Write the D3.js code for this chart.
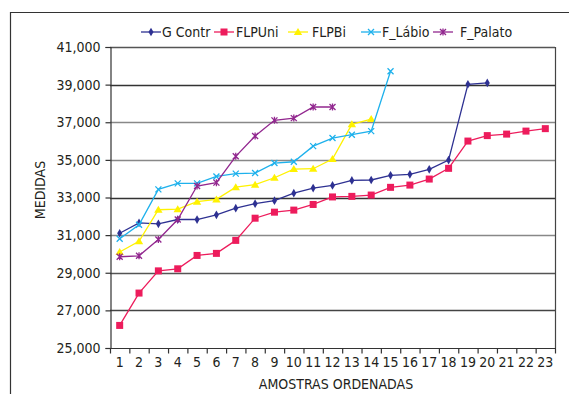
<!DOCTYPE html>
<html>
<head>
<meta charset="utf-8">
<script src="https://cdn.jsdelivr.net/npm/d3@7"></script>
<style>
  html, body { margin: 0; padding: 0; background: #fff; }
  svg { display: block; }
  text { font-family: "Liberation Sans Narrow", "DejaVu Sans Condensed", "Roboto Condensed", sans-serif; fill: #231f20; }
</style>
</head>
<body>
<svg id="chart" width="569" height="394"></svg>
<script>
const categories = d3.range(1, 24).map(String);
const yTicks = [25000, 27000, 29000, 31000, 33000, 35000, 37000, 39000, 41000];
const seriesNames = ["G Contr", "FLPUni", "FLPBi", "F_Lábio", "F_Palato"];
const gContr = [31100, 31650, 31600, 31830, 31830, 32080, 32430, 32670, 32830, 33230, 33500, 33640, 33910, 33930, 34180, 34230, 34500, 34990, 39020, 39090];
const flpUni = [26200, 27920, 29100, 29210, 29920, 30030, 30720, 31900, 32220, 32330, 32630, 33030, 33060, 33130, 33540, 33660, 33980, 34550, 36000, 36290, 36370, 36530, 36660];
const flpBi = [30100, 30670, 32350, 32380, 32780, 32900, 33550, 33680, 34050, 34510, 34530, 35040, 36890, 37170];
const fLabio = [30810, 31550, 33430, 33750, 33750, 34120, 34270, 34300, 34830, 34900, 35730, 36160, 36340, 36530, 39710];
const fPalato = [29850, 29900, 30770, 31830, 33610, 33790, 35190, 36270, 37100, 37220, 37810, 37810];

const seriesValues = [gContr, flpUni, flpBi, fLabio, fPalato];
const colors = ["#2e3192", "#ed1c5c", "#fff200", "#1eb1ec", "#92278f"];
const markers = ["diamond", "square", "triangle", "x", "star"];

const svg = d3.select("#chart");

// outer frame (left & top only visible)
svg.append("path").attr("d", "M10.5,394 L10.5,12.5 L569,12.5")
  .attr("fill", "none").attr("stroke", "#333").attr("stroke-width", 1.2);

const L = 110, R = 555, T = 47, B = 348;
const x = d3.scaleBand().domain(categories).range([L, R]).padding(0);
const y = d3.scaleLinear().domain([25000, 41000]).range([B, T]);

// gridlines
const gridColors = {27000: "#444", 29000: "#555", 31000: "#888", 33000: "#333", 35000: "#888", 37000: "#888", 39000: "#333", 41000: "#555"};
svg.append("g").selectAll("line").data(yTicks.filter(v => v > 25000)).join("line")
  .attr("x1", L).attr("x2", R)
  .attr("y1", d => Math.round(y(d)) + 0.5).attr("y2", d => Math.round(y(d)) + 0.5)
  .attr("stroke", d => gridColors[d]).attr("stroke-width", 1.4);
// right border
svg.append("line").attr("x1", R + 0.5).attr("x2", R + 0.5).attr("y1", T).attr("y2", B)
  .attr("stroke", "#444").attr("stroke-width", 1.2);

// y axis
const yAxis = svg.append("g").attr("transform", `translate(${L + 0.5},0)`)
  .call(d3.axisLeft(y).tickValues(yTicks).tickSize(5).tickPadding(5).tickFormat(d3.format(",")));
yAxis.select(".domain").attr("stroke", "#333").attr("stroke-width", 1.2);
yAxis.selectAll(".tick line").attr("stroke", "#333").attr("stroke-width", 1.2);
yAxis.selectAll("text").attr("font-size", 14).attr("fill", "#231f20")
  .attr("font-family", "'Liberation Sans Narrow', 'DejaVu Sans Condensed', sans-serif");

// x axis with ticks between categories
const xAxisG = svg.append("g").attr("transform", `translate(0,${B + 0.5})`);
xAxisG.append("line").attr("x1", L).attr("x2", R + 1).attr("y1", 0).attr("y2", 0)
  .attr("stroke", "#333").attr("stroke-width", 1.2);
const bounds = categories.map(c => x(c)).concat([R]);
xAxisG.selectAll("line.tk").data(bounds).join("line").attr("class", "tk")
  .attr("x1", d => d + 0.5).attr("x2", d => d + 0.5).attr("y1", 0).attr("y2", 5)
  .attr("stroke", "#333").attr("stroke-width", 1.2);
xAxisG.selectAll("text").data(categories).join("text")
  .attr("x", d => x(d) + x.bandwidth() / 2).attr("y", 18)
  .attr("text-anchor", "middle").attr("font-size", 14).text(d => d);

// axis titles
svg.append("text").attr("transform", "translate(45,190) rotate(-90)")
  .attr("text-anchor", "middle").attr("font-size", 14).text("MEDIDAS");
svg.append("text").attr("x", 336).attr("y", 389)
  .attr("text-anchor", "middle").attr("font-size", 14).text("AMOSTRAS ORDENADAS");

function drawMarker(g, type, color) {
  if (type === "diamond") {
    g.append("path").attr("d", d3.symbol(d3.symbolDiamond, 22)()).attr("fill", color);
  } else if (type === "square") {
    g.append("rect").attr("x", -3.5).attr("y", -3.5).attr("width", 7).attr("height", 7).attr("fill", color);
  } else if (type === "triangle") {
    g.append("path").attr("d", "M0,-4 L4.2,3 L-4.2,3 Z").attr("fill", color);
  } else if (type === "x") {
    g.append("path").attr("d", "M-3,-3 L3,3 M-3,3 L3,-3").attr("stroke", color).attr("stroke-width", 1.3).attr("fill", "none");
  } else if (type === "star") {
    g.append("path").attr("d", "M-3,-3 L3,3 M-3,3 L3,-3 M0,-3.5 L0,3.5").attr("stroke", color).attr("stroke-width", 1.3).attr("fill", "none");
  }
}

const line = d3.line().x((d, i) => x(categories[i]) + x.bandwidth() / 2).y(d => y(d));
seriesValues.forEach((vals, si) => {
  const g = svg.append("g");
  g.append("path").datum(vals).attr("d", line).attr("fill", "none")
    .attr("stroke", colors[si]).attr("stroke-width", 1.3);
  vals.forEach((v, i) => {
    const mg = g.append("g").attr("transform", `translate(${x(categories[i]) + x.bandwidth() / 2},${y(v)})`);
    drawMarker(mg, markers[si], colors[si]);
  });
});

// legend
const legendX = [141, 214, 288, 361, 433];
const legendTextX = [162, 236, 312, 382, 460];
const ly = 32;
seriesNames.forEach((name, si) => {
  const g = svg.append("g");
  g.append("line").attr("x1", legendX[si]).attr("x2", legendX[si] + 20).attr("y1", ly).attr("y2", ly)
    .attr("stroke", colors[si]).attr("stroke-width", 1.3);
  const mg = g.append("g").attr("transform", `translate(${legendX[si] + 10},${ly})`);
  drawMarker(mg, markers[si], colors[si]);
  g.append("text").attr("x", legendTextX[si]).attr("y", ly + 5).attr("font-size", 14).text(name);
});
</script>
</body>
</html>
